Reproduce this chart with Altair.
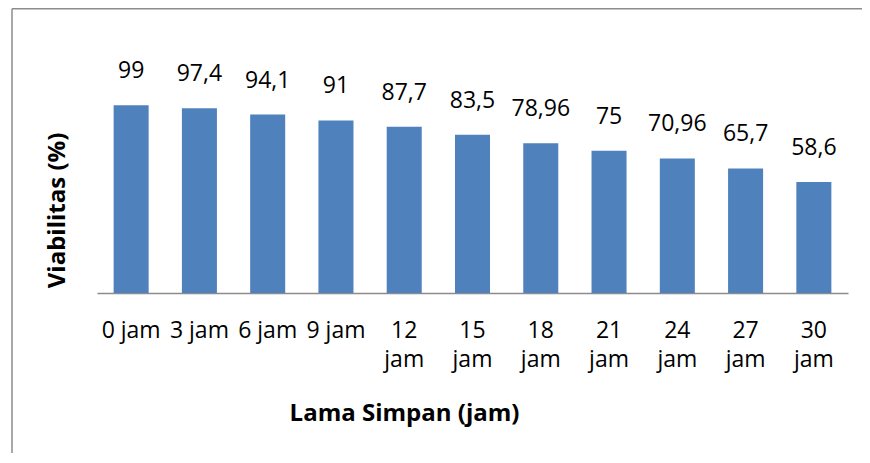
import altair as alt
import pandas as pd

categories = ["0 jam", "3 jam", "6 jam", "9 jam", "12 jam", "15 jam", "18 jam",
              "21 jam", "24 jam", "27 jam", "30 jam"]
values = [99, 97.4, 94.1, 91, 87.7, 83.5, 78.96, 75, 70.96, 65.7, 58.6]
value_labels = ["99", "97,4", "94,1", "91", "87,7", "83,5", "78,96", "75", "70,96", "65,7", "58,6"]

df = pd.DataFrame({"cat": categories, "val": values, "lab": value_labels})

FONT = "Open Sans"
W, H = 751, 227.5

xenc = alt.X(
    "cat:N", sort=categories,
    scale=alt.Scale(paddingInner=0.487, paddingOuter=0.2436),
    axis=alt.Axis(
        title="Lama Simpan (jam)", titleFont=FONT, titleFontSize=24, titleFontWeight="bold",
        titleColor="black", titleX=307, titleY=127, titleAlign="center",
        titleBaseline="alphabetic", titleAnchor="start",
        labelFont=FONT, labelFontSize=23, labelColor="black", labelAngle=0,
        labelBaseline="alphabetic", labelPadding=44, labelLineHeight=29,
        labelExpr="length(datum.label) > 5 ? split(datum.label, ' ') : datum.label",
        ticks=False, tickSize=0, domainColor="#8c8c8c", domainWidth=1.5, grid=False,
    ),
)
yenc = alt.Y(
    "val:Q", scale=alt.Scale(domain=[0, 120], nice=False, zero=True),
    axis=alt.Axis(
        title="Viabilitas (%)", titleFont=FONT, titleFontSize=24, titleFontWeight="bold",
        titleColor="black", titleX=-33, titleY=144.5, titleAngle=270,
        titleAlign="center", titleBaseline="alphabetic", titleAnchor="start",
        labels=False, ticks=False, domain=False, grid=False,
    ),
)

bars = alt.Chart(df).mark_bar(color="#4F81BD").encode(x=xenc, y=yenc)
texts = alt.Chart(df).mark_text(
    font=FONT, fontSize=23, color="black", baseline="alphabetic", dy=-27
).encode(x=alt.X("cat:N", sort=categories), y="val:Q", text="lab:N")

frame_df = pd.DataFrame({"a": [0]})
top_line = alt.Chart(frame_df).mark_rule(color="#8c8c8c", strokeWidth=1.5).encode(
    x=alt.value(-85), x2=alt.value(W + 14), y=alt.value(-56.8))
left_line = alt.Chart(frame_df).mark_rule(color="#8c8c8c", strokeWidth=1.5).encode(
    x=alt.value(-85), y=alt.value(-56.8), y2=alt.value(H + 160))

chart = alt.layer(bars, texts, top_line, left_line).properties(
    width=W, height=H,
    background="white",
    autosize=alt.AutoSizeParams(type="none"),
    padding={"left": 89, "top": 57.5, "right": 14, "bottom": 160},
).configure_view(strokeWidth=0, stroke=None)

chart.save("out.html", embed_options={"renderer": "svg", "actions": False})
